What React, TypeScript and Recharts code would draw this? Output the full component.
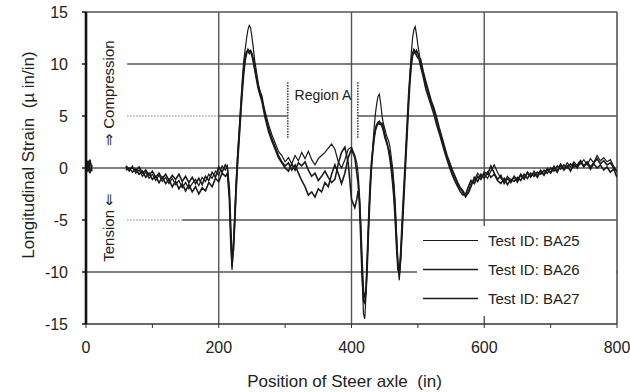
import React from 'react';
import { LineChart, Line, XAxis, YAxis, ReferenceLine, ReferenceDot, Legend } from 'recharts';

// Position of steer axle (in)
const X = [
  0, 3, 6, 9, 30,
  60, 65, 70, 75, 80, 85, 90, 95, 100, 105, 110, 115, 120, 125, 130, 135, 140, 145, 150, 155, 160, 165, 170, 175, 180, 185, 190, 195, 200, 205, 210,
  213, 216, 218, 220, 222, 224, 226, 228, 230, 232, 234, 236, 238, 240, 242, 244, 246, 248, 250, 252, 254, 256, 258, 260,
  265, 270, 275, 280, 285, 290, 295, 300, 305, 310, 315, 320, 325, 330, 335, 340, 345, 350, 355, 360, 365, 370, 375, 380, 385, 390, 395, 400, 405,
  408, 410, 412, 414, 416, 418, 420, 422, 424, 426, 428, 430, 432, 434, 436, 438, 440, 442, 444, 446, 448, 450, 452, 454, 456, 458, 460, 462, 464, 466, 468, 470, 472, 474, 476, 478, 480, 482, 484, 486, 488, 490, 492, 494, 496, 498, 500,
  504, 508, 512, 516, 520, 524, 528, 532, 536, 540, 544, 548, 552, 556, 560, 564, 568, 572, 576, 580,
  585, 590, 595,
  600, 605, 610, 615, 620, 625, 630, 635, 640, 645, 650, 655, 660, 665, 670, 675, 680, 685, 690, 695, 700, 705, 710, 715, 720, 725, 730, 735, 740, 745, 750, 755, 760, 765, 770, 775, 780, 785, 790, 795, 800,
];

const BA25 = [
  0.6, -0.4, 0.5, 0.1, null,
  0.1, -0.3, 0.2, -0.5, -0.2, -0.8, -0.4, -1.0, -0.6, -1.2, -0.7, -1.3, -0.9, -1.5, -1.0, -1.6, -1.2, -1.9, -1.4, -2.0, -1.5, -1.1, -1.7, -0.9, -1.3, -0.6, -1.0, -0.3, -0.7, 0.2, -0.2,
  0.2, -2.5, -6.5, -9.8, -7.5, -4.5, -1.5, 1.0, 3.0, 5.0, 7.0, 9.0, 10.5, 11.5, 12.5, 13.3, 13.7, 13.5, 12.6, 11.6, 10.4, 9.6, 8.8, 8.0,
  6.6, 5.4, 4.2, 3.2, 2.4, 1.6, 1.2, 0.6, 1.0, 0.4, 1.2, 0.7, 1.5, 0.9, 1.6, 0.8, 0.3, 0.9, 1.2, 1.5, 1.9, 2.3, 1.8, 0.6, 0.0, 0.8, 1.8, 2.0, 1.2,
  0.5, -0.5, -2.5, -6.0, -10.0, -14.0, -14.5, -12.0, -8.5, -5.0, -2.0, 0.0, 2.0, 3.8, 5.2, 6.2, 6.9, 7.1, 6.2, 5.0, 4.3, 3.8, 3.3, 2.9, 2.6, 2.0, 1.0, 0.0, -1.5, -3.5, -6.5, -9.5, -10.8, -9.0, -6.0, -3.5, -1.0, 1.5, 4.0, 6.5, 9.0, 11.0, 12.5, 13.3, 13.6, 12.8, 11.8,
  10.2, 9.0, 8.0, 7.2, 6.3, 5.6, 4.6, 3.7, 2.8, 1.8, 1.0, 0.3, -0.5, -1.0, -1.6, -2.0, -2.4, -2.8, -2.2, -1.5,
  -1.2, -0.5, -0.9,
  -0.6, -1.0, -0.3, 0.3, -0.4, -1.0, -1.3, -0.8, -1.2, -0.9, -1.4, -0.7, -1.1, -0.5, -0.9, -0.3, -0.7, -0.2, -0.6, 0.0, -0.4, 0.2, -0.3, 0.4, -0.1, 0.5, 0.1, 0.6, 0.2, 0.4, 0.8, 0.3, 0.9, 0.5, 1.2, 0.7, 1.0, 0.6, 0.8, 0.2, -0.4,
];

const BA26 = [
  -0.2, 0.7, -0.5, 0.3, null,
  -0.2, 0.0, -0.4, -0.1, -0.6, -0.3, -0.9, -0.5, -1.1, -0.8, -1.4, -0.9, -1.5, -1.1, -1.8, -1.3, -2.0, -1.5, -2.2, -1.6, -2.3, -1.8, -2.5, -1.9, -2.2, -1.4, -1.8, -1.0, -1.3, -0.5, -0.8,
  -0.5, -3.0, -7.0, -9.5, -7.8, -5.0, -2.0, 0.5, 2.5, 4.5, 6.5, 8.3, 9.8, 10.8, 11.2, 11.3, 11.0, 11.2, 11.0, 10.5, 9.8, 9.0, 8.4, 7.7,
  6.9, 5.0, 3.8, 2.8, 2.0, 1.2, 0.6, 0.2, 0.5, -0.2, 0.3, -0.5, -1.2, -1.8, -2.6, -2.3, -2.8, -2.0, -2.3, -1.4, -1.8, -0.6, 0.3, -0.5, -1.5, -0.5, 1.0, 1.8, 1.0,
  -0.5, -1.5, -3.5, -7.0, -10.5, -12.8, -13.0, -11.5, -8.0, -4.5, -1.5, 0.5, 1.8, 3.0, 3.8, 4.2, 4.3, 4.2, 4.3, 4.0, 3.6, 3.0, 2.6, 2.2, 1.8, 1.2, 0.3, -0.8, -2.2, -4.5, -7.0, -9.2, -10.2, -8.8, -6.5, -4.0, -1.5, 1.0, 3.5, 6.0, 8.2, 9.8, 10.8, 11.2, 11.0, 11.3, 11.0,
  9.8, 8.8, 7.6, 6.8, 6.0, 5.2, 4.2, 3.4, 2.5, 1.6, 0.8, 0.0, -0.7, -1.3, -1.8, -2.3, -2.6, -2.5, -1.8, -1.2,
  -1.5, -0.8, -1.1,
  -0.4, -0.6, 0.2, -0.5, -1.1, -0.7, -1.5, -1.0, -1.4, -0.8, -1.2, -0.6, -1.0, -0.4, -0.8, -0.5, -0.9, -0.3, -0.7, -0.1, -0.5, 0.0, -0.4, 0.3, -0.2, 0.2, -0.3, 0.4, 0.0, 0.6, 0.1, 0.5, -0.1, 0.4, 0.0, 0.3, -0.2, 0.1, -0.4, -0.1, -0.9,
];

const BA27 = [
  0.3, 0.1, 0.8, -0.3, null,
  0.2, -0.1, 0.0, -0.3, 0.1, -0.5, -0.2, -0.7, -0.3, -0.9, -0.5, -1.0, -0.6, -1.2, -0.7, -1.1, -0.6, -1.3, -0.8, -1.4, -0.9, -1.5, -1.0, -1.6, -0.8, -1.2, -0.4, -0.9, 0.1, -0.4, 0.3,
  0.0, -2.0, -5.5, -8.5, -8.0, -5.5, -2.5, 0.0, 2.0, 4.0, 6.0, 7.8, 9.3, 10.4, 11.0, 11.4, 11.2, 11.3, 10.8, 10.2, 9.5, 8.8, 8.1, 7.5,
  6.4, 4.8, 3.5, 2.6, 1.8, 1.0, 0.5, 0.0, -0.3, 0.4, -0.2, 0.5, 0.2, 0.6, -0.2, -0.8, -0.5, -1.2, -0.8, -0.3, -0.9, -1.4, -1.1, 0.4, 1.5, 2.0, 0.5, -3.0, -3.8,
  -3.0, -2.2, -3.0, -5.5, -9.0, -11.8, -12.5, -11.8, -9.0, -5.5, -2.5, 0.0, 1.5, 2.8, 3.6, 4.0, 4.4, 4.5, 4.2, 4.3, 3.9, 3.3, 2.8, 2.3, 1.6, 0.8, -0.2, -1.5, -3.0, -5.2, -7.8, -9.8, -10.0, -8.2, -5.5, -3.0, -0.5, 2.0, 4.5, 7.0, 8.8, 10.2, 11.0, 11.4, 11.2, 10.8, 10.6,
  10.5, 9.3, 8.3, 7.4, 6.5, 5.8, 4.9, 3.9, 3.0, 2.1, 1.2, 0.5, -0.2, -0.8, -1.4, -1.9, -2.2, -2.7, -2.4, -1.8,
  -0.9, -1.3, -0.6,
  -1.0, -0.4, -0.9, -0.6, -1.2, -1.5, -1.0, -1.6, -1.1, -1.3, -0.9, -1.2, -0.6, -1.0, -0.5, -0.8, -0.4, -0.6, -0.2, -0.5, 0.0, -0.3, 0.2, -0.1, 0.3, 0.0, 0.4, 0.1, 0.3, 0.7, 0.2, 0.6, 0.1, 0.5, 0.9, 0.4, 0.7, 0.3, 0.5, 0.0, -0.3,
];

const SERIES = [
  { key: 'BA25', name: 'Test ID: BA25', values: BA25 },
  { key: 'BA26', name: 'Test ID: BA26', values: BA26 },
  { key: 'BA27', name: 'Test ID: BA27', values: BA27 },
];

const Y_TICKS = [-15, -10, -5, 0, 5, 10, 15];
const X_TICKS = [0, 100, 200, 300, 400, 500, 600, 700, 800];
const X_LABELED = [0, 200, 400, 600, 800];

const X_TITLE = 'Position of Steer axle  (in)';
const Y_TITLE = 'Longitudinal Strain  (\u00b5 in/in)';
const COMPRESSION = '\u21d2 Compression';
const TENSION = 'Tension \u21d0';
const REGION = 'Region A';

const rows = X.map((x, i) => {
  const r: any = { x };
  SERIES.forEach((s) => {
    r[s.key] = s.values[i];
  });
  return r;
});

const FONT = '"Liberation Sans", Arial, Helvetica, sans-serif';
const GRID = '#555';
const INK = '#1a1a1a';
const WIDTHS: Record<string, number> = { BA25: 1.2, BA26: 1.6, BA27: 1.6 };

const RotText = (text: string, dx = 0) => (p: any) => (
  <text
    x={p.cx + dx}
    y={p.cy}
    transform={`rotate(-90, ${p.cx + dx}, ${p.cy})`}
    textAnchor="middle"
    dominantBaseline="central"
    fontFamily={FONT}
    fontSize={15}
    fill="#222"
  >
    {text}
  </text>
);

const PlainText = (text: string) => (p: any) => (
  <text x={p.cx} y={p.cy} textAnchor="middle" dominantBaseline="central" fontFamily={FONT} fontSize={14} fill="#222">
    {text}
  </text>
);

const XTitle = (props: any) => {
  const vb = props.viewBox;
  return (
    <text
      x={vb.x + vb.width / 2 - 7}
      y={387}
      textAnchor="middle"
      fontFamily={FONT}
      fontSize={17}
      fill="#222"
      style={{ whiteSpace: 'pre' }}
    >
      {X_TITLE}
    </text>
  );
};

const YTitle = (props: any) => {
  const vb = props.viewBox;
  const cx = 28;
  const cy = vb.y + vb.height / 2 - 13;
  return (
    <text
      x={cx}
      y={cy}
      transform={`rotate(-90, ${cx}, ${cy})`}
      textAnchor="middle"
      dominantBaseline="central"
      fontFamily={FONT}
      fontSize={17}
      fill="#222"
      style={{ whiteSpace: 'pre' }}
    >
      {Y_TITLE}
    </text>
  );
};

const LegendBox = (props: any) => {
  const payload = props.payload || [];
  return (
    <div style={{ width: 199, height: 90, background: '#fff', fontFamily: FONT }}>
      {payload.map((e: any) => (
        <div key={e.value} style={{ height: 29, display: 'flex', alignItems: 'center' }}>
          <svg width={71} height={29} style={{ display: 'block' }}>
            <line x1={6} x2={61} y1={14.5} y2={14.5} stroke={INK} strokeWidth={WIDTHS[e.dataKey] || 1.5} />
          </svg>
          <span style={{ fontSize: 15, color: '#222', whiteSpace: 'nowrap' }}>{e.value}</span>
        </div>
      ))}
    </div>
  );
};

export default function App() {
  const solid = { stroke: GRID, strokeWidth: 1.4 };
  const dotted = { stroke: '#777', strokeWidth: 1.2, strokeDasharray: '1.5 1.5' };
  return (
    <div style={{ position: 'absolute', left: 0, top: 0, width: 630, height: 392, background: '#fff' }}>
      <LineChart width={630} height={392} data={rows} margin={{ top: 12, right: 13, left: 0, bottom: 8 }}>
        <XAxis
          dataKey="x"
          type="number"
          domain={[0, 800]}
          ticks={X_TICKS}
          tickFormatter={(v: number) => (X_LABELED.includes(v) ? String(v) : '')}
          height={60}
          tickSize={4}
          tickMargin={14}
          axisLine={{ stroke: '#333', strokeWidth: 1.6 }}
          tickLine={{ stroke: '#333' }}
          tick={{ fontSize: 16, fontFamily: FONT, fill: '#222' }}
          label={{ content: XTitle }}
          allowDataOverflow
        />
        <YAxis
          type="number"
          domain={[-15, 15]}
          ticks={Y_TICKS}
          width={86}
          tickSize={4}
          tickMargin={14}
          axisLine={{ stroke: '#111', strokeWidth: 2.6 }}
          tickLine={{ stroke: '#111', strokeWidth: 1.5 }}
          tick={{ fontSize: 16, fontFamily: FONT, fill: '#222' }}
          label={{ content: YTitle }}
          allowDataOverflow
        />

        <ReferenceLine y={15} {...solid} strokeWidth={1.6} />
        <ReferenceLine segment={[{ x: 62, y: 10 }, { x: 800, y: 10 }]} {...solid} />
        <ReferenceLine segment={[{ x: 62, y: 5 }, { x: 200, y: 5 }]} {...dotted} />
        <ReferenceLine segment={[{ x: 200, y: 5 }, { x: 304, y: 5 }]} {...solid} />
        <ReferenceLine segment={[{ x: 409.5, y: 5 }, { x: 800, y: 5 }]} {...solid} />
        <ReferenceLine y={0} {...solid} />
        <ReferenceLine segment={[{ x: 62, y: -5 }, { x: 145, y: -5 }]} {...dotted} />
        <ReferenceLine segment={[{ x: 145, y: -5 }, { x: 800, y: -5 }]} {...solid} />
        <ReferenceLine y={-10} {...solid} />
        <ReferenceLine x={200} {...solid} />
        <ReferenceLine x={400} {...solid} />
        <ReferenceLine x={600} {...solid} />
        <ReferenceLine x={800} {...solid} strokeWidth={1.6} />

        <ReferenceLine segment={[{ x: 304, y: 2.9 }, { x: 304, y: 8.3 }]} stroke="#444" strokeWidth={1.6} strokeDasharray="1.5 1.2" />
        <ReferenceLine segment={[{ x: 409.5, y: 2.9 }, { x: 409.5, y: 8.3 }]} stroke="#444" strokeWidth={1.6} strokeDasharray="1.5 1.2" />
        <ReferenceDot x={357} y={7.0} r={0} shape={PlainText(REGION)} />
        <ReferenceDot x={34} y={7.2} r={0} shape={RotText(COMPRESSION)} />
        <ReferenceDot x={34} y={-5.7} r={0} shape={RotText(TENSION)} />

        {SERIES.map((s) => (
          <Line
            key={s.key}
            dataKey={s.key}
            name={s.name}
            type="linear"
            stroke={INK}
            strokeWidth={WIDTHS[s.key]}
            dot={false}
            activeDot={false}
            connectNulls={false}
            isAnimationActive={false}
          />
        ))}

        <Legend
          layout="vertical"
          align="center"
          verticalAlign="middle"
          content={LegendBox}
          wrapperStyle={{ left: 417, top: 226, width: 199, height: 90 }}
        />
      </LineChart>
    </div>
  );
}
